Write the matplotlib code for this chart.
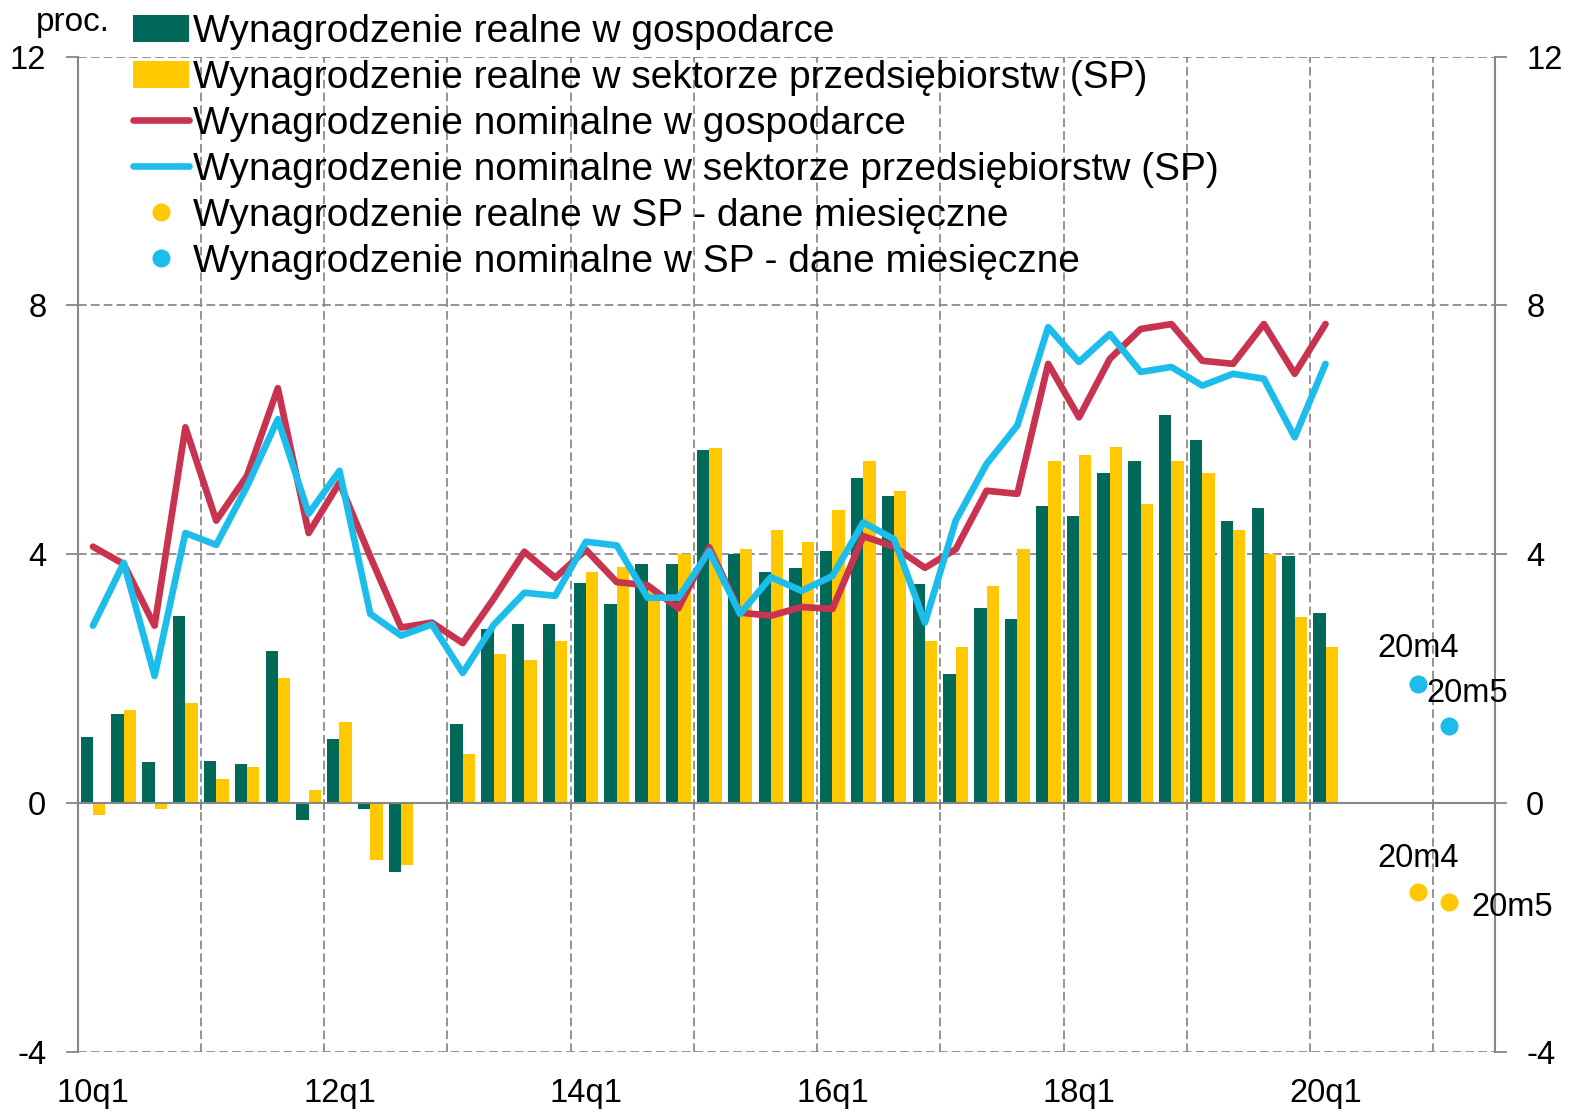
import matplotlib
matplotlib.use("Agg")
import matplotlib.pyplot as plt
import numpy as np
from matplotlib.lines import Line2D

plt.rcParams['font.family'] = ['Liberation Sans', 'DejaVu Sans']

# ---------------- data ----------------
quarters = ['10q1', '10q2', '10q3', '10q4', '11q1', '11q2', '11q3', '11q4',
            '12q1', '12q2', '12q3', '12q4', '13q1', '13q2', '13q3', '13q4',
            '14q1', '14q2', '14q3', '14q4', '15q1', '15q2', '15q3', '15q4',
            '16q1', '16q2', '16q3', '16q4', '17q1', '17q2', '17q3', '17q4',
            '18q1', '18q2', '18q3', '18q4', '19q1', '19q2', '19q3', '19q4',
            '20q1']
extra_slots = ['', '', '20m4', '20m5', '']   # slots after 20q1

real_economy = [1.06, 1.43, 0.65, 3.01, 0.68, 0.63, 2.44, -0.27, 1.03, -0.09,
                -1.11, 0.0, 1.27, 2.80, 2.87, 2.87, 3.53, 3.20, 3.84, 3.84,
                5.68, 4.00, 3.72, 3.77, 4.05, 5.22, 4.94, 3.52, 2.07, 3.14,
                2.96, 4.77, 4.62, 5.30, 5.50, 6.24, 5.83, 4.54, 4.74, 3.97,
                3.06]
real_sp = [-0.20, 1.50, -0.10, 1.60, 0.38, 0.57, 2.01, 0.21, 1.30, -0.91,
           -1.00, 0.0, 0.79, 2.39, 2.30, 2.60, 3.71, 3.80, 3.42, 4.00,
           5.70, 4.09, 4.39, 4.20, 4.71, 5.50, 5.01, 2.60, 2.50, 3.49,
           4.09, 5.50, 5.59, 5.72, 4.81, 5.50, 5.30, 4.39, 4.00, 2.99,
           2.50]
nominal_economy = [4.12, 3.84, 2.85, 6.04, 4.54, 5.26, 6.67, 4.34, 5.15, 3.96,
                   2.82, 2.90, 2.57, 3.28, 4.04, 3.62, 4.07, 3.55, 3.50, 3.13,
                   4.11, 3.06, 3.01, 3.15, 3.12, 4.29, 4.12, 3.78, 4.08, 5.02,
                   4.97, 7.06, 6.20, 7.14, 7.62, 7.70, 7.11, 7.06, 7.70, 6.90,
                   7.70]
nominal_sp = [2.85, 3.86, 2.04, 4.34, 4.15, 5.09, 6.17, 4.65, 5.34, 3.04,
              2.69, 2.87, 2.09, 2.86, 3.38, 3.33, 4.20, 4.14, 3.30, 3.30,
              4.05, 3.04, 3.63, 3.41, 3.65, 4.51, 4.24, 2.90, 4.54, 5.45,
              6.07, 7.65, 7.09, 7.54, 6.93, 7.01, 6.71, 6.90, 6.82, 5.88,
              7.06]
months = ['20m4', '20m5']
real_sp_monthly = [-1.43, -1.60]
nominal_sp_monthly = [1.92, 1.24]

tick_labels = ['10q1', '12q1', '14q1', '16q1', '18q1', '20q1']

labels = ['Wynagrodzenie realne w gospodarce',
          'Wynagrodzenie realne w sektorze przedsiębiorstw (SP)',
          'Wynagrodzenie nominalne w gospodarce',
          'Wynagrodzenie nominalne w sektorze przedsiębiorstw (SP)',
          'Wynagrodzenie realne w SP - dane miesięczne',
          'Wynagrodzenie nominalne w SP - dane miesięczne']

# ---------------- styles ----------------
c_green = '#00695A'
c_yellow = '#FFC800'
c_red = '#C8334F'
c_blue = '#1CBDEB'
c_grid = '#878787'

all_slots = quarters + extra_slots
n_slots = len(all_slots)
xq = np.arange(len(quarters))
xm = np.array([all_slots.index(m) for m in months])

fig = plt.figure(figsize=(15.73, 11.13), dpi=100)
ax = fig.add_axes([0.0493, 0.0551, 0.9011, 0.894])

bw = 0.4
b1 = ax.bar(xq - bw / 2, real_economy, width=bw, color=c_green, zorder=3)
b2 = ax.bar(xq + bw / 2, real_sp, width=bw, color=c_yellow, zorder=3)
l1, = ax.plot(xq, nominal_economy, color=c_red, lw=4.8, zorder=4,
              solid_joinstyle='round', solid_capstyle='round')
l2, = ax.plot(xq, nominal_sp, color=c_blue, lw=4.8, zorder=5,
              solid_joinstyle='round', solid_capstyle='round')
d1, = ax.plot(xm, real_sp_monthly, 'o', color=c_yellow, ms=13, mec='none', zorder=6)
d2, = ax.plot(xm, nominal_sp_monthly, 'o', color=c_blue, ms=13, mec='none', zorder=6)

fs_tick = 23.5
# labels for monthly points
ax.annotate(months[0], (xm[0], nominal_sp_monthly[0]), xytext=(0, 14),
            textcoords='offset points', ha='center', va='bottom', fontsize=fs_tick)
ax.annotate(months[1], (xm[1], nominal_sp_monthly[1]), xytext=(-16, 12),
            textcoords='offset points', ha='left', va='bottom', fontsize=fs_tick)
ax.annotate(months[0], (xm[0], real_sp_monthly[0]), xytext=(0, 13),
            textcoords='offset points', ha='center', va='bottom', fontsize=fs_tick)
ax.annotate(months[1], (xm[1], real_sp_monthly[1]), xytext=(16, -4),
            textcoords='offset points', ha='left', va='center', fontsize=fs_tick)

# ---------------- axes ----------------
ax.set_xlim(-0.5, n_slots - 0.5)
ax.set_ylim(-4, 12)
ax.set_yticks([-4, 0, 4, 8, 12])
ax.set_yticklabels(['-4', '0', '4', '8', '12'])

tick_pos = [quarters.index(t) for t in tick_labels]
ax.set_xticks(tick_pos)
ax.set_xticklabels(tick_labels)
ax.set_xticks(np.arange(3.5, n_slots - 1, 4), minor=True)

for s in ['left', 'right']:
    ax.spines[s].set_color(c_grid)
    ax.spines[s].set_linewidth(1.5)
ax.spines['bottom'].set_visible(False)
ax.spines['top'].set_position(('data', 0))
ax.spines['top'].set_color(c_grid)
ax.spines['top'].set_linewidth(1.5)
ax.spines['top'].set_zorder(3.5)

ax.tick_params(axis='y', which='major', left=True, right=True, labelleft=True,
               labelright=True, direction='out', length=8.5, width=1.3,
               color=c_grid, pad=14, labelsize=fs_tick)
ax.tick_params(axis='x', which='major', bottom=True, top=False, length=0,
               labelbottom=True, labeltop=False, pad=19, labelsize=fs_tick)
ax.tick_params(axis='x', which='minor', bottom=False, top=True, direction='in',
               length=5, width=1.3, color=c_grid)

ax.grid(axis='y', which='major', color=c_grid, lw=1.25, linestyle=(0, (5, 2.4)), zorder=1)
ax.grid(axis='x', which='minor', color=c_grid, lw=1.25, linestyle=(0, (5, 2.4)), zorder=1)
ax.grid(axis='x', which='major', visible=False)
ax.set_axisbelow(True)

fig.text(36 / 1573, 1 - 31 / 1113, 'proc.', fontsize=24, ha='left', va='baseline')

fig.legend([b1, b2, l1, l2, d1, d2], labels, loc='upper left',
           bbox_to_anchor=(133 / 1573, 1 - 14 / 1113), frameon=False,
           fontsize=28, handlelength=1.45, handleheight=0.68, handletextpad=0.1,
           labelspacing=0.255, borderpad=0, borderaxespad=0)

fig.savefig('out.png', dpi=100)
